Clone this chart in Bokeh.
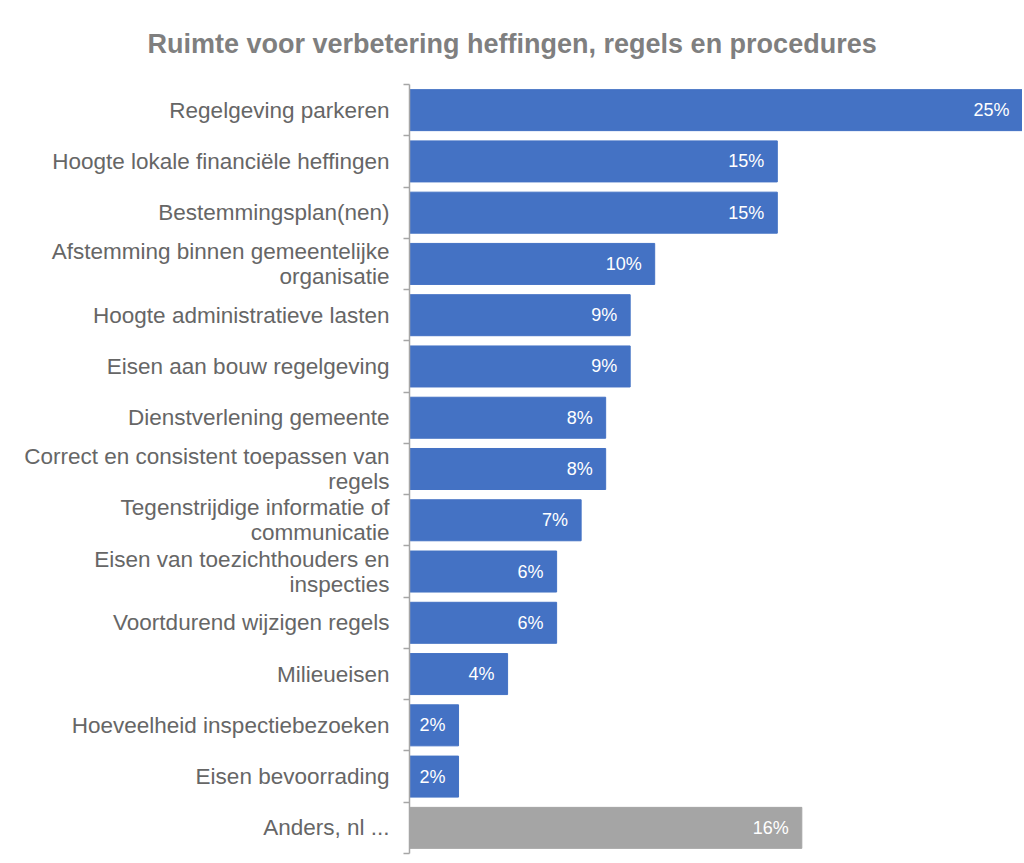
from bokeh.plotting import figure
from bokeh.models import (FactorRange, Range1d, LinearAxis, CategoricalAxis, FixedTicker,
                          ColumnDataSource, LabelSet, Title, CustomJSTickFormatter)
from bokeh.core.properties import value
from bokeh.embed import file_html
from bokeh.resources import INLINE

title_text = "Ruimte voor verbetering heffingen, regels en procedures"
categories = [
    "Regelgeving parkeren",
    "Hoogte lokale financiële heffingen",
    "Bestemmingsplan(nen)",
    "Afstemming binnen gemeentelijke\norganisatie",
    "Hoogte administratieve lasten",
    "Eisen aan bouw regelgeving",
    "Dienstverlening gemeente",
    "Correct en consistent toepassen van\nregels",
    "Tegenstrijdige informatie of\ncommunicatie",
    "Eisen van toezichthouders en\ninspecties",
    "Voortdurend wijzigen regels",
    "Milieueisen",
    "Hoeveelheid inspectiebezoeken",
    "Eisen bevoorrading",
    "Anders, nl ...",
]
values = [25, 15, 15, 10, 9, 9, 8, 8, 7, 6, 6, 4, 2, 2, 16]
colors = ["#4472C4"] * 14 + ["#A5A5A5"]

labels = [f"{v}%" for v in values]
factors = list(reversed(categories))

src = ColumnDataSource(dict(cat=categories, val=values, color=colors, label=labels))

p = figure(width=1022, height=860, output_backend="svg", toolbar_location=None,
           x_range=Range1d(0, 25), y_range=FactorRange(factors=factors, range_padding=0),
           x_axis_location=None, y_axis_location=None,
           min_border_left=409, min_border_right=0, min_border_top=84, min_border_bottom=7)

p.add_layout(Title(text=title_text, align="left", offset=-262, text_font="Liberation Sans",
                   text_font_size="27px", text_font_style="bold", text_color="#7F7F7F",
                   standoff=52), "above")

p.grid.visible = False
p.outline_line_color = None

# boundary ticks between categories (synthetic coordinates)
tick_axis = LinearAxis(ticker=FixedTicker(ticks=list(range(len(categories) + 1))),
                       formatter=CustomJSTickFormatter(code="return ''"),
                       axis_line_color="#A6A6A6", axis_line_width=1.5,
                       major_tick_line_color="#A6A6A6", major_tick_line_width=1.5,
                       major_tick_in=0, major_tick_out=6, minor_tick_line_color=None,
                       major_label_standoff=0)
p.add_layout(tick_axis, "left")

cat_axis = CategoricalAxis(axis_line_color=None, major_tick_line_color=None,
                           major_label_text_font="Liberation Sans", major_label_text_font_size="22.5px",
                           major_label_text_color="#666666", major_label_standoff=8,
                           major_label_text_line_height=1.0)
p.add_layout(cat_axis, "left")

p.hbar(y="cat", right="val", left=0, height=0.8, color="color", source=src)

p.add_layout(LabelSet(x="val", y="cat", text="label", source=src,
                      x_offset=-13, text_align="right", text_baseline="middle",
                      text_font=value("Liberation Sans"), text_font_size="18px", text_color="white"))

open("out.html", "w").write(file_html(p, INLINE))
